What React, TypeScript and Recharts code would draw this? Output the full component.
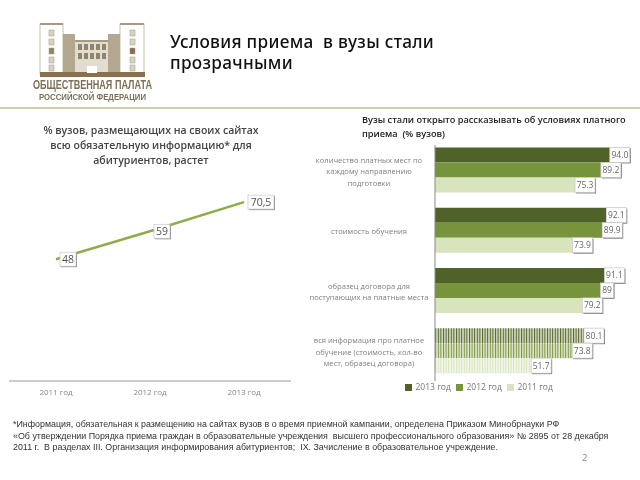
import React from 'react';
import { Bar, BarChart, LabelList, Legend, Line, LineChart, XAxis, YAxis, Cell } from 'recharts';

const years = ['2011 год', '2012 год', '2013 год'];
const shareValues = [48, 59, 70.5];
const shareLabels = ['48', '59', '70,5'];

const topics = [
  'количество платных мест по\nкаждому направлению\nподготовки',
  'стоимость обучения',
  'образец договора для\nпоступающих на платные места',
  'вся информация про платное\nобучение (стоимость, кол-во\nмест, образец договора)'
];
const values2013 = [94.0, 92.1, 91.1, 80.1];
const values2012 = [89.2, 89.9, 89, 73.8];
const values2011 = [75.3, 73.9, 79.2, 51.7];
const labels2013 = ['94.0', '92.1', '91.1', '80.1'];
const labels2012 = ['89.2', '89.9', '89', '73.8'];
const labels2011 = ['75.3', '73.9', '79.2', '51.7'];

const lineData = years.map((year, i) => ({ year, share: shareValues[i] }));
const barData = topics.map((topic, i) => ({
  topic,
  y2013: values2013[i],
  y2012: values2012[i],
  y2011: values2011[i]
}));

const COLORS = { dark: '#4F6228', mid: '#77933C', light: '#D7E4BD', line: '#8FAB4A', brown: '#7F6F55', text: '#7f7f7f' };
const SANS = '"Open Sans", sans-serif';

function ShareLabel(props: any) {
  const { x, y, index } = props;
  const text = shareLabels[index];
  const w = text.length > 2 ? 26 : 16;
  const cx = x + (text.length > 2 ? 17 : 12);
  return (
    <g>
      <rect x={cx - w / 2 + 1} y={y - 6} width={w} height={14} fill="#8c8c8c" />
      <rect x={cx - w / 2} y={y - 7} width={w} height={14} fill="#fff" stroke="#c4c4c4" strokeWidth={0.7} />
      <text x={cx} y={y + 3.5} textAnchor="middle" fontSize={10.5} fontFamily={SANS} fill="#555">
        {text}
      </text>
    </g>
  );
}

const barLabel = (labels: string[]) => (props: any) => {
  const { x, y, width, height, index } = props;
  const text = labels[index];
  const w = text.length > 2 ? 20 : 13;
  return (
    <g>
      <rect x={x + width + 1} y={y + 1} width={w} height={height} fill="#777" />
      <rect x={x + width} y={y} width={w} height={height} fill="#fff" stroke="#c4c4c4" strokeWidth={0.7} />
      <text x={x + width + w / 2} y={y + height / 2 + 3} textAnchor="middle" fontSize={8.5} fontFamily={SANS} fill="#666">
        {text}
      </text>
    </g>
  );
};

function TopicTick(props: any) {
  const { y, payload } = props;
  const lines = String(payload.value).split('\n');
  return (
    <text textAnchor="middle" fontSize={7.6} fontFamily={SANS} fill={COLORS.text}>
      {lines.map((line, i) => (
        <tspan key={i} x={69} y={y + 4 + (i - (lines.length - 1) / 2) * 11.5}>
          {line}
        </tspan>
      ))}
    </text>
  );
}

const WINDOWS = [30, 39, 48, 57, 65];

function Logo() {
  return (
    <svg width={260} height={110} style={{ position: 'absolute', left: 0, top: 0 }}>
      <rect x={40} y={24} width={23} height={50} fill="#fff" stroke="#c8c0ae" />
      <rect x={120} y={24} width={24} height={50} fill="#fff" stroke="#c8c0ae" />
      <rect x={40} y={23} width={23} height={2} fill="#a89a80" />
      <rect x={120} y={23} width={24} height={2} fill="#a89a80" />
      <rect x={63} y={34} width={12} height={38} fill="#b3a78f" />
      <rect x={108} y={34} width={12} height={38} fill="#b3a78f" />
      <rect x={75} y={41} width={33} height={31} fill="#e3ddd0" />
      <rect x={75} y={40} width={33} height={2} fill="#a89a80" />
      {WINDOWS.map((wy, i) => (
        <g key={wy}>
          <rect x={49} y={wy} width={5} height={6} fill={i === 2 ? '#8a8a60' : '#d8d2c4'} stroke="#a89a80" strokeWidth={0.5} />
          <rect x={130} y={wy} width={5} height={6} fill={i === 2 ? '#8a6a50' : '#d8d2c4'} stroke="#a89a80" strokeWidth={0.5} />
        </g>
      ))}
      {[78, 84, 90, 96, 102].map((wx) => (
        <g key={wx}>
          <rect x={wx} y={44} width={4} height={6} fill="#8f846c" />
          <rect x={wx} y={53} width={4} height={6} fill="#8f846c" />
        </g>
      ))}
      <rect x={40} y={72} width={105} height={5} fill="#8a6f4c" />
      <rect x={87} y={66} width={10} height={7} fill="#fff" />
      <text x={33} y={89} textLength={119} lengthAdjust="spacingAndGlyphs" fontSize={12.5} fontWeight={700} fontFamily='"Liberation Sans"' fill={COLORS.brown}>
        ОБЩЕСТВЕННАЯ ПАЛАТА
      </text>
      <text x={39} y={99.5} textLength={107} lengthAdjust="spacingAndGlyphs" fontSize={9.5} fontWeight={700} fontFamily='"Liberation Sans"' fill={COLORS.brown}>
        РОССИЙСКОЙ ФЕДЕРАЦИИ
      </text>
    </svg>
  );
}

export default function App() {
  return (
    <div style={{ position: 'absolute', left: 0, top: 0, width: 640, height: 480, background: '#fff', overflow: 'hidden', filter: 'blur(0.45px)' }}>
      <Logo />
      <div style={{ position: 'absolute', left: 170, top: 31, width: 290, fontFamily: '"Noto Sans", sans-serif', fontWeight: 500, fontSize: 17.2, letterSpacing: 0.3, lineHeight: '21px', color: '#111', whiteSpace: 'nowrap' }}>
        Условия приема{'\u00a0 '}в вузы стали<br />прозрачными
      </div>
      <div style={{ position: 'absolute', left: 0, top: 107, width: 640, height: 2, background: '#cfcfb0' }} />

      <div style={{ position: 'absolute', left: 21, top: 123, width: 260, textAlign: 'center', fontFamily: SANS, fontWeight: 600, fontSize: 10.5, lineHeight: '15px', color: '#444' }}>
        % вузов, размещающих на своих сайтах<br />всю обязательную информацию* для<br />абитуриентов, растет
      </div>
      <div style={{ position: 'absolute', left: 9, top: 178 }}>
        <LineChart width={282} height={228} data={lineData} margin={{ top: 0, right: 0, bottom: 0, left: 0 }}>
          <XAxis
            dataKey="year"
            padding={{ left: 47, right: 47 }}
            height={25}
            tick={{ fontSize: 8, fill: '#888', fontFamily: SANS }}
            tickLine={false}
            axisLine={{ stroke: '#999', strokeWidth: 1 }}
          />
          <YAxis hide domain={[0, 80]} />
          <Line dataKey="share" stroke={COLORS.line} strokeWidth={2.5} dot={false} isAnimationActive={false}>
            <LabelList dataKey="share" content={ShareLabel} />
          </Line>
        </LineChart>
      </div>

      <div style={{ position: 'absolute', left: 300, top: 140 }}>
        <BarChart
          width={340}
          height={261}
          data={barData}
          layout="vertical"
          barGap={0}
          barCategoryGap="12.3%"
          margin={{ top: 0, right: 19, bottom: 0, left: 0 }}
        >
          <defs>
            <pattern id="stripes2013" width={2.6} height={4} patternUnits="userSpaceOnUse">
              <rect width={2.6} height={4} fill="#d3d9c0" />
              <rect width={1} height={4} fill={COLORS.dark} />
            </pattern>
            <pattern id="stripes2012" width={2.6} height={4} patternUnits="userSpaceOnUse">
              <rect width={2.6} height={4} fill="#dfe6cc" />
              <rect width={1} height={4} fill={COLORS.mid} />
            </pattern>
            <pattern id="stripes2011" width={2.6} height={4} patternUnits="userSpaceOnUse">
              <rect width={2.6} height={4} fill="#f3f6ea" />
              <rect width={1} height={4} fill={COLORS.light} />
            </pattern>
          </defs>
          <XAxis type="number" hide domain={[0, 100]} />
          <YAxis
            type="category"
            dataKey="topic"
            width={135}
            tick={TopicTick}
            tickLine={false}
            axisLine={{ stroke: '#888', strokeWidth: 1 }}
          />
          <Legend
            height={20}
            iconType="square"
            iconSize={7}
            itemSorter={null}
            wrapperStyle={{ left: 55, width: 252, fontSize: 8.5, fontFamily: SANS, whiteSpace: 'nowrap' }}
            formatter={(value) => <span style={{ color: '#777', display: 'inline-block', width: 30, whiteSpace: 'nowrap' }}>{value}</span>}
          />
          <Bar dataKey="y2013" name="2013 год" fill={COLORS.dark} isAnimationActive={false}>
            {barData.map((d, i) => (
              <Cell key={d.topic} fill={i === 3 ? 'url(#stripes2013)' : COLORS.dark} />
            ))}
            <LabelList dataKey="y2013" content={barLabel(labels2013)} />
          </Bar>
          <Bar dataKey="y2012" name="2012 год" fill={COLORS.mid} isAnimationActive={false}>
            {barData.map((d, i) => (
              <Cell key={d.topic} fill={i === 3 ? 'url(#stripes2012)' : COLORS.mid} />
            ))}
            <LabelList dataKey="y2012" content={barLabel(labels2012)} />
          </Bar>
          <Bar dataKey="y2011" name="2011 год" fill={COLORS.light} isAnimationActive={false}>
            {barData.map((d, i) => (
              <Cell key={d.topic} fill={i === 3 ? 'url(#stripes2011)' : COLORS.light} />
            ))}
            <LabelList dataKey="y2011" content={barLabel(labels2011)} />
          </Bar>
        </BarChart>
      </div>
      <div style={{ position: 'absolute', left: 362, top: 113, width: 275, height: 32, background: '#fff', fontFamily: SANS, fontWeight: 600, fontSize: 9.2, lineHeight: '14px', color: '#222', whiteSpace: 'nowrap' }}>
        Вузы стали открыто рассказывать об условиях платного<br />приема{'\u00a0 '}(% вузов)
      </div>

      <div style={{ position: 'absolute', left: 13, top: 419, width: 620, fontFamily: '"Liberation Sans", sans-serif', fontSize: 8.9, lineHeight: '11.5px', color: '#333', whiteSpace: 'nowrap' }}>
        *Информация, обязательная к размещению на сайтах вузов в о время приемной кампании, определена Приказом Минобрнауки РФ<br />
        «Об утверждении Порядка приема граждан в образовательные учреждения{'\u00a0 '}высшего профессионального образования» № 2895 от 28 декабря<br />
        2011 г.{'\u00a0 '}В разделах III. Организация информирования абитуриентов;{'\u00a0 '}IX. Зачисление в образовательное учреждение.
      </div>
      <div style={{ position: 'absolute', left: 582, top: 451, fontFamily: SANS, fontSize: 9.5, color: '#888' }}>2</div>
    </div>
  );
}
